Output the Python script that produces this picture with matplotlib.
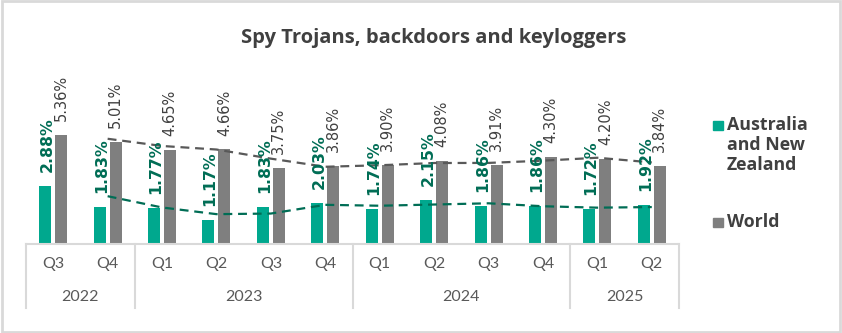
import numpy as np
import matplotlib.pyplot as plt
from matplotlib.patches import Rectangle
from matplotlib.lines import Line2D

quarters = ['Q3', 'Q4', 'Q1', 'Q2', 'Q3', 'Q4', 'Q1', 'Q2', 'Q3', 'Q4', 'Q1', 'Q2']
years = ['2022', '2023', '2024', '2025']
year_spans = [(0, 1), (2, 5), (6, 9), (10, 11)]  # first/last quarter index of each year
anz = [2.88, 1.83, 1.77, 1.17, 1.83, 2.03, 1.74, 2.15, 1.86, 1.86, 1.72, 1.92]
world = [5.36, 5.01, 4.65, 4.66, 3.75, 3.86, 3.90, 4.08, 3.91, 4.30, 4.20, 3.84]
series_names = ['Australia\nand New\nZealand', 'World']

GREEN = '#00A88E'
GREEN_DARK = '#006D55'
GREY = '#7F7F7F'
GREY_DARK = '#595959'
TEXT = '#404040'
RULE = '#D9D9D9'

fig = plt.figure(figsize=(8.42, 3.33), dpi=100)
ax = fig.add_axes([0.0309, 0.2673, 0.7755, 0.518])

x = np.arange(len(quarters))
w = 0.22
off = 0.147
b1 = ax.bar(x - off, anz, w, color=GREEN, zorder=2)
b2 = ax.bar(x + off, world, w, color=GREY, zorder=2)

# 2-period moving average trendlines
def moving_avg(v):
    v = np.asarray(v)
    return (v[1:] + v[:-1]) / 2

dash = (0, (4, 2.6))
ax.plot(x[1:], moving_avg(anz), color=GREEN_DARK, lw=1.6, ls=dash, zorder=3)
ax.plot(x[1:], moving_avg(world), color=GREY_DARK, lw=1.6, ls=dash, zorder=3)

for xi, v in zip(x, anz):
    ax.annotate(f'{v:.2f}%', (xi - off, v), xytext=(1.2, 10), textcoords='offset points',
                rotation=90, ha='center', va='bottom', fontsize=11.3, fontweight='bold',
                color=GREEN_DARK, family='DejaVu Sans', zorder=4)
for xi, v in zip(x, world):
    ax.annotate(f'{v:.2f}%', (xi + off, v), xytext=(0, 10), textcoords='offset points',
                rotation=90, ha='center', va='bottom', fontsize=10.5,
                color=TEXT, family='DejaVu Sans', zorder=4)

ax.set_xlim(-0.5, len(quarters) - 0.5)
ax.set_ylim(0, 8.5)
ax.set_xticks([])
ax.set_yticks([])
for s in ['top', 'right', 'left']:
    ax.spines[s].set_visible(False)
ax.spines['bottom'].set_color(RULE)
ax.spines['bottom'].set_linewidth(1.5)

# two-level category axis below the plot
tr = ax.get_xaxis_transform()
for xi, q in zip(x, quarters):
    ax.text(xi, -0.115, q, transform=tr, ha='center', va='center', fontsize=11.5,
            color=GREY_DARK, family='Lato')
for yr, (a, b) in zip(years, year_spans):
    ax.text((a + b) / 2, -0.31, yr, transform=tr, ha='center', va='center', fontsize=11.5,
            color=GREY_DARK, family='Lato')
for edge in [-0.5, 1.5, 5.5, 9.5, 11.5]:
    ax.add_line(Line2D([edge, edge], [0, -0.37], transform=tr, color=RULE, lw=1.5,
                       clip_on=False))

fig.text(0.515, 0.886, 'Spy Trojans, backdoors and keyloggers', ha='center', va='center',
         fontsize=14.5, fontweight='bold', color=TEXT, family='Open Sans')

# legend
leg_items = [(b1, series_names[0], 0.636), (b2, series_names[1], 0.345)]
for bars, name, ytop in leg_items:
    fig.patches.append(Rectangle((713 / 842, ytop - 0.027), 10 / 842, 0.027,
                                 transform=fig.transFigure, color=bars.patches[0].get_facecolor()))
    fig.text(727 / 842, ytop + 0.016, name, ha='left', va='top', fontsize=12.8,
             fontweight='bold', color=TEXT, family='Open Sans', linespacing=1.15)

fig.patches.append(Rectangle((0.002, 0.003), 0.996, 0.994, transform=fig.transFigure,
                             fill=False, edgecolor=RULE, lw=2))

fig.savefig('out.png', dpi=100)
